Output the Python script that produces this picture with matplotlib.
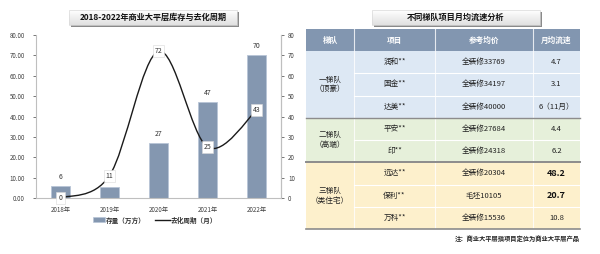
import matplotlib
matplotlib.use('Agg')
import matplotlib.pyplot as plt
import numpy as np
from matplotlib.patches import Rectangle, PathPatch
from matplotlib.path import Path

plt.rcParams['font.family'] = ['Noto Sans CJK SC', 'DejaVu Sans']

# ---- data ----
years = ['2018年', '2019年', '2020年', '2021年', '2022年']
stock = [6, 5.2, 27, 47, 70]          # 存量（万方）
cycle = [0, 11, 72, 25, 43]           # 去化周期（月）
stock_labels = ['6', '', '27', '47', '70']

header = ['梯队', '项目', '参考均价', '月均流速']
tiers = ['一梯队\n（顶豪）', '二梯队\n（高端）', '三梯队\n（类住宅）']
tier_sizes = [3, 2, 3]
projects = ['润和**', '国金**', '达美**', '平安**', '印**', '远达**', '保利**', '万科**']
prices = ['全装修33769', '全装修34197', '全装修40000', '全装修27684',
          '全装修24318', '全装修20304', '毛坯10105', '全装修15536']
speeds = ['4.7', '3.1', '6（11月）', '4.4', '6.2', '48.2', '20.7', '10.8']
bold_speeds = ['48.2', '20.7']

W, H = 600, 254
fig = plt.figure(figsize=(6, 2.54), dpi=100)


def px_axes(x0, y0, x1, y1):
    return fig.add_axes([x0 / W, 1 - y1 / H, (x1 - x0) / W, (y1 - y0) / H])


# ---- left chart ----
ax = px_axes(36, 35, 281, 198)
x = np.arange(len(years))
ax.bar(x, stock, width=0.39, color='#8497b0', edgecolor='#b8c5d6', linewidth=0.6,
       label='存量（万方）', zorder=2)
for xi, v, lab in zip(x, stock, stock_labels):
    if lab:
        ax.text(xi, v + 2.5, lab, ha='center', va='bottom', fontsize=5, color='#333333')
ax.set_xlim(-0.5, 4.5)
ax.set_ylim(0, 80)
ax.set_yticks(np.arange(0, 81, 10))
ax.set_yticklabels([f'{v:.2f}' for v in np.arange(0, 81, 10)])
ax.set_xticks(x)
ax.set_xticklabels(years)
ax.tick_params(axis='y', labelsize=4.5, colors='#404040', length=2, width=0.5, pad=6)
ax.tick_params(axis='x', labelsize=4.5, colors='#404040', length=0, pad=6)
ax.spines['top'].set_visible(False)
for s in ['left', 'bottom', 'right']:
    ax.spines[s].set_color('#bfbfbf')
    ax.spines[s].set_linewidth(0.8)
for t in ax.yaxis.get_ticklines():
    t.set_color('#bfbfbf')

ax2 = ax.twinx()
ax2.set_ylim(0, 80)
ax2.set_yticks(np.arange(0, 81, 10))
ax2.tick_params(axis='y', labelsize=4.5, colors='#404040', length=2, width=0.5, pad=3)
for t in ax2.yaxis.get_ticklines():
    t.set_color('#bfbfbf')
for s in ['top', 'left', 'bottom']:
    ax2.spines[s].set_visible(False)
ax2.spines['right'].set_color('#bfbfbf')
ax2.spines['right'].set_linewidth(0.8)

# smooth line (Catmull-Rom style bezier, like Excel smoothing)
px = list(x.astype(float))
py = list(cycle)
verts = [(px[0], py[0])]
codes = [Path.MOVETO]
n = len(px)
for i in range(n - 1):
    p0 = (px[max(i - 1, 0)], py[max(i - 1, 0)])
    p1 = (px[i], py[i])
    p2 = (px[i + 1], py[i + 1])
    p3 = (px[min(i + 2, n - 1)], py[min(i + 2, n - 1)])
    c1 = (p1[0] + (p2[0] - p0[0]) / 6, p1[1] + (p2[1] - p0[1]) / 6)
    c2 = (p2[0] - (p3[0] - p1[0]) / 6, p2[1] - (p3[1] - p1[1]) / 6)
    verts += [c1, c2, p2]
    codes += [Path.CURVE4] * 3
ax2.add_patch(PathPatch(Path(verts, codes), fc='none', ec='#1a1a1a', lw=1.0, zorder=3))
for xi, v in zip(x, cycle):
    ax2.text(xi, v, str(v), ha='center', va='center', fontsize=5, color='#333333', zorder=5,
             bbox=dict(boxstyle='square,pad=0.3', fc='white', ec='#d9d9d9', lw=0.4))

# overlay for legend, title boxes and table
lax = fig.add_axes([0, 0, 1, 1], facecolor='none')
lax.set_xlim(0, W)
lax.set_ylim(H, 0)
lax.axis('off')
lax.add_patch(Rectangle((93, 217), 12, 5, fc='#8497b0', ec='#b8c5d6', lw=0.5))
lax.text(106, 220, '存量（万方）', fontsize=4.8, va='center', ha='left', color='#333333',
         fontweight='bold')
lax.plot([155, 170], [220, 220], color='#1a1a1a', lw=1.0)
lax.text(171, 220, '去化周期（月）', fontsize=4.8, va='center', ha='left', color='#333333',
         fontweight='bold')


def title_box(x0, x1, y0, y1, text):
    lax.add_patch(Rectangle((x0 + 1.5, y0 + 1.5), x1 - x0, y1 - y0, fc='#8a8a8a', ec='none',
                            zorder=1))
    shade = np.linspace(1.0, 0.88, 40)
    grad = np.dstack([shade, shade, shade]).reshape(-1, 1, 3)
    lax.imshow(grad, extent=(x0, x1, y1, y0), aspect='auto', zorder=2,
               interpolation='bilinear')
    lax.add_patch(Rectangle((x0, y0), x1 - x0, y1 - y0, fc='none', ec='#d9d9d9', lw=0.5,
                            zorder=3))
    lax.text((x0 + x1) / 2, (y0 + y1) / 2, text, ha='center', va='center', fontsize=5.9,
             fontweight='bold', color='#111111', zorder=4)


title_box(69, 237, 10, 25, '2018-2022年商业大平层库存与去化周期')
title_box(372, 540, 10, 25, '不同梯队项目月均流速分析')
lax.set_xlim(0, W)
lax.set_ylim(H, 0)

# ---- table ----
cols = [306, 354, 435, 533, 580]
top_h, top_b, bottom = 29, 51, 229
row_h = (bottom - top_b) / len(projects)
group_colors = ['#dde8f4', '#e6f0da', '#fdf0cc']

lax.add_patch(Rectangle((cols[0], top_h), cols[-1] - cols[0], top_b - top_h,
                        fc='#8296b0', ec='none'))
for j, h in enumerate(header):
    lax.text((cols[j] + cols[j + 1]) / 2, (top_h + top_b) / 2, h, ha='center', va='center',
             fontsize=5.5, color='white', fontweight='bold')

r = 0
for g, (tier, size) in enumerate(zip(tiers, tier_sizes)):
    y0 = top_b + r * row_h
    y1 = y0 + size * row_h
    lax.add_patch(Rectangle((cols[0], y0), cols[-1] - cols[0], y1 - y0,
                            fc=group_colors[g], ec='none'))
    lax.text((cols[0] + cols[1]) / 2, (y0 + y1) / 2, tier, ha='center', va='center',
             fontsize=5.5, color='#222222', linespacing=1.3)
    for k in range(size):
        yc = y0 + (k + 0.5) * row_h
        i = r + k
        vals = [projects[i], prices[i], speeds[i]]
        for j, v in enumerate(vals):
            bold = j == 2 and v in bold_speeds
            lax.text((cols[j + 1] + cols[j + 2]) / 2, yc, v, ha='center', va='center',
                     fontsize=6.5 if bold else 5.5, color='#111111' if bold else '#222222',
                     fontweight='bold' if bold else 'normal')
        if k > 0:
            lax.plot([cols[1], cols[-1]], [y0 + k * row_h] * 2, color='white', lw=0.8)
    if g > 0:
        lax.plot([cols[0], cols[-1]], [y0, y0], color='#8c8c8c', lw=1.0 if g == 1 else 1.4,
                 zorder=3)
    r += size
lax.plot([cols[0], cols[-1]], [bottom, bottom], color='#8c8c8c', lw=1.2, zorder=3)
for c in cols[1:-1]:
    lax.plot([c, c], [top_h, bottom], color='white', lw=0.8, alpha=0.8)

lax.text(cols[-1], 238, '注：商业大平层指项目定位为商业大平层产品', ha='right', va='center',
         fontsize=4.5, fontweight='bold', color='#222222')

fig.savefig('out.png', dpi=100)
